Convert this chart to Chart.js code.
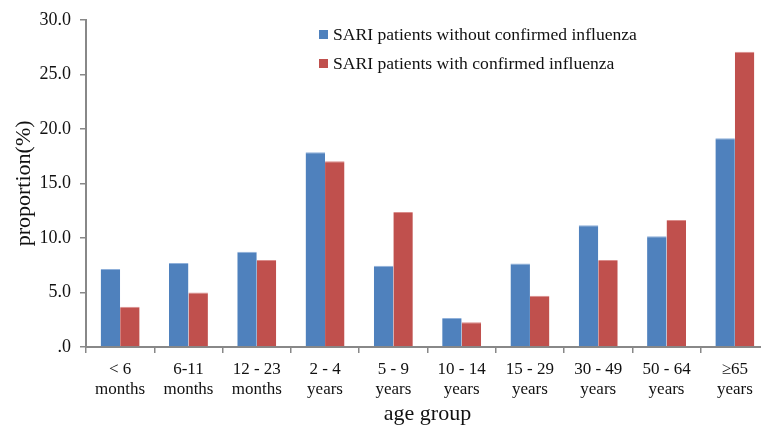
<!DOCTYPE html>
<html>
<head>
<meta charset="utf-8">
<script src="https://cdn.jsdelivr.net/npm/chart.js@4.4.0/dist/chart.umd.min.js"></script>
<style>
  html, body { margin: 0; padding: 0; background: #fff; overflow: hidden; width: 761px; height: 429px; }
  #wrap { position: relative; width: 775px; height: 429px; }
  #legend { position: absolute; left: 319px; top: 23px; font-family: 'Liberation Serif', 'Times New Roman', serif; font-size: 17.6px; color: #111; }
  .li { position: relative; height: 28.5px; line-height: 22px; padding-left: 14px; white-space: nowrap; }
  .sw { position: absolute; left: 0; top: 7px; width: 9px; height: 9px; }
</style>
</head>
<body>
<div id="wrap">
  <canvas id="c" width="775" height="429"></canvas>
  <div id="legend"></div>
</div>
<script>
const categories = [['< 6','months'],['6-11','months'],['12 - 23','months'],['2 - 4','years'],['5 - 9','years'],['10 - 14','years'],['15 - 29','years'],['30 - 49','years'],['50 - 64','years'],['\u226565','years']];
const seriesNames = ['SARI patients without confirmed influenza', 'SARI patients with confirmed influenza'];
const withoutFlu = [7.15, 7.7, 8.73, 17.86, 7.45, 2.65, 7.66, 11.17, 10.16, 19.13];
const withFlu = [3.68, 5.0, 7.97, 17.03, 12.38, 2.28, 4.69, 7.97, 11.65, 27.07];
const yTicks = [0, 5, 10, 15, 20, 25, 30];
const colors = ['#4F81BD', '#C0504D'];
const borders = ['#8FB0DA', '#DA8C8A'];

const FONT = "'Liberation Serif', 'Times New Roman', serif";

const datasets = [withoutFlu, withFlu].map((d, i) => ({
  label: seriesNames[i],
  data: d,
  backgroundColor: colors[i],
  borderColor: borders[i],
  borderWidth: {top: 1, left: 0, right: 0, bottom: 0},
  borderSkipped: 'bottom',
  categoryPercentage: 0.57,
  barPercentage: 1.0
}));

new Chart(document.getElementById('c'), {
  type: 'bar',
  data: { labels: categories, datasets },
  options: {
    responsive: false,
    animation: false,
    layout: { padding: { left: 8, right: 6, top: 18, bottom: 0 } },
    plugins: { legend: { display: false }, tooltip: { enabled: false } },
    scales: {
      x: {
        grid: { offset: true, drawOnChartArea: false, color: '#888', lineWidth: 1.5, tickLength: 6 },
        border: { color: '#888', width: 2 },
        ticks: { font: { family: FONT, size: 17 }, color: '#111', padding: 6, maxRotation: 0, autoSkip: false },
        title: { display: true, text: 'age group', font: { family: FONT, size: 22 }, color: '#111', padding: { top: 0, bottom: 2 } },
        afterFit: s => { s.height = 429 - 347; }
      },
      y: {
        min: 0, max: 30,
        afterBuildTicks: s => { s.ticks = yTicks.map(v => ({ value: v })); },
        grid: { drawOnChartArea: false, color: '#888', lineWidth: 1.5, tickLength: 6 },
        border: { color: '#888', width: 2 },
        ticks: { font: { family: FONT, size: 18 }, color: '#111', padding: 9,
                 callback: v => v === 0 ? '.0' : v.toFixed(1) },
        title: { display: true, text: 'proportion(%)', font: { family: FONT, size: 22 }, color: '#111', padding: { top: 3, bottom: 0 } },
        afterFit: s => { s.width = 86 - 8; }
      }
    }
  }
});

const lg = document.getElementById('legend');
seriesNames.forEach((n, i) => {
  const d = document.createElement('div');
  d.className = 'li';
  const sw = document.createElement('span');
  sw.className = 'sw';
  sw.style.background = colors[i];
  d.appendChild(sw);
  d.appendChild(document.createTextNode(n));
  lg.appendChild(d);
});
</script>
</body>
</html>
